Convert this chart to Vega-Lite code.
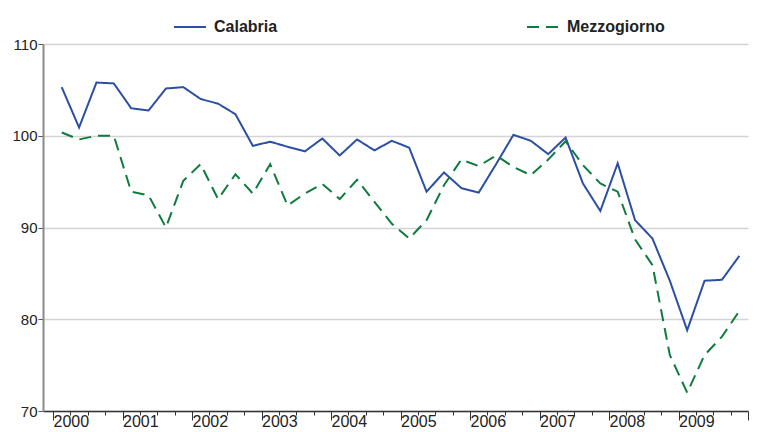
{
  "$schema": "https://vega.github.io/schema/vega-lite/v6.json",
  "width": 705,
  "height": 367,
  "autosize": {"type": "none"},
  "padding": {"left": 43, "top": 44, "right": 9, "bottom": 21},
  "background": "white",
  "config": {
    "view": {"stroke": null},
    "font": "Liberation Sans",
    "axis": {"labelFont": "Liberation Sans", "labelColor": "#222222", "labelFontSize": 15, "title": null}
  },
  "data": {
    "values": [
      {"t": 2000.125, "s": "Calabria", "v": 105.3},
      {"t": 2000.375, "s": "Calabria", "v": 100.9},
      {"t": 2000.625, "s": "Calabria", "v": 105.8},
      {"t": 2000.875, "s": "Calabria", "v": 105.7},
      {"t": 2001.125, "s": "Calabria", "v": 103.0},
      {"t": 2001.375, "s": "Calabria", "v": 102.75},
      {"t": 2001.625, "s": "Calabria", "v": 105.15},
      {"t": 2001.875, "s": "Calabria", "v": 105.3},
      {"t": 2002.125, "s": "Calabria", "v": 104.0},
      {"t": 2002.375, "s": "Calabria", "v": 103.5},
      {"t": 2002.625, "s": "Calabria", "v": 102.35},
      {"t": 2002.875, "s": "Calabria", "v": 98.9},
      {"t": 2003.125, "s": "Calabria", "v": 99.35},
      {"t": 2003.375, "s": "Calabria", "v": 98.8},
      {"t": 2003.625, "s": "Calabria", "v": 98.3},
      {"t": 2003.875, "s": "Calabria", "v": 99.7},
      {"t": 2004.125, "s": "Calabria", "v": 97.85},
      {"t": 2004.375, "s": "Calabria", "v": 99.6},
      {"t": 2004.625, "s": "Calabria", "v": 98.4},
      {"t": 2004.875, "s": "Calabria", "v": 99.45},
      {"t": 2005.125, "s": "Calabria", "v": 98.7},
      {"t": 2005.375, "s": "Calabria", "v": 93.9},
      {"t": 2005.625, "s": "Calabria", "v": 96.0},
      {"t": 2005.875, "s": "Calabria", "v": 94.3},
      {"t": 2006.125, "s": "Calabria", "v": 93.8},
      {"t": 2006.375, "s": "Calabria", "v": 96.9},
      {"t": 2006.625, "s": "Calabria", "v": 100.1},
      {"t": 2006.875, "s": "Calabria", "v": 99.45},
      {"t": 2007.125, "s": "Calabria", "v": 98.0},
      {"t": 2007.375, "s": "Calabria", "v": 99.8},
      {"t": 2007.625, "s": "Calabria", "v": 94.8},
      {"t": 2007.875, "s": "Calabria", "v": 91.8},
      {"t": 2008.125, "s": "Calabria", "v": 97.0},
      {"t": 2008.375, "s": "Calabria", "v": 90.8},
      {"t": 2008.625, "s": "Calabria", "v": 88.8},
      {"t": 2008.875, "s": "Calabria", "v": 84.2},
      {"t": 2009.125, "s": "Calabria", "v": 78.8},
      {"t": 2009.375, "s": "Calabria", "v": 84.2},
      {"t": 2009.625, "s": "Calabria", "v": 84.3},
      {"t": 2009.875, "s": "Calabria", "v": 86.9},
      {"t": 2000.125, "s": "Mezzogiorno", "v": 100.35},
      {"t": 2000.375, "s": "Mezzogiorno", "v": 99.6},
      {"t": 2000.625, "s": "Mezzogiorno", "v": 100.0},
      {"t": 2000.875, "s": "Mezzogiorno", "v": 100.0},
      {"t": 2001.125, "s": "Mezzogiorno", "v": 93.9},
      {"t": 2001.375, "s": "Mezzogiorno", "v": 93.5},
      {"t": 2001.625, "s": "Mezzogiorno", "v": 90.0},
      {"t": 2001.875, "s": "Mezzogiorno", "v": 95.1},
      {"t": 2002.125, "s": "Mezzogiorno", "v": 96.9},
      {"t": 2002.375, "s": "Mezzogiorno", "v": 93.1},
      {"t": 2002.625, "s": "Mezzogiorno", "v": 95.8},
      {"t": 2002.875, "s": "Mezzogiorno", "v": 93.7},
      {"t": 2003.125, "s": "Mezzogiorno", "v": 96.9},
      {"t": 2003.375, "s": "Mezzogiorno", "v": 92.4},
      {"t": 2003.625, "s": "Mezzogiorno", "v": 93.7},
      {"t": 2003.875, "s": "Mezzogiorno", "v": 94.75},
      {"t": 2004.125, "s": "Mezzogiorno", "v": 93.1},
      {"t": 2004.375, "s": "Mezzogiorno", "v": 95.2},
      {"t": 2004.625, "s": "Mezzogiorno", "v": 92.8},
      {"t": 2004.875, "s": "Mezzogiorno", "v": 90.4},
      {"t": 2005.125, "s": "Mezzogiorno", "v": 88.8},
      {"t": 2005.375, "s": "Mezzogiorno", "v": 90.8},
      {"t": 2005.625, "s": "Mezzogiorno", "v": 94.6},
      {"t": 2005.875, "s": "Mezzogiorno", "v": 97.4},
      {"t": 2006.125, "s": "Mezzogiorno", "v": 96.7},
      {"t": 2006.375, "s": "Mezzogiorno", "v": 97.85},
      {"t": 2006.625, "s": "Mezzogiorno", "v": 96.6},
      {"t": 2006.875, "s": "Mezzogiorno", "v": 95.7},
      {"t": 2007.125, "s": "Mezzogiorno", "v": 97.4},
      {"t": 2007.375, "s": "Mezzogiorno", "v": 99.4},
      {"t": 2007.625, "s": "Mezzogiorno", "v": 96.8},
      {"t": 2007.875, "s": "Mezzogiorno", "v": 94.8},
      {"t": 2008.125, "s": "Mezzogiorno", "v": 93.9},
      {"t": 2008.375, "s": "Mezzogiorno", "v": 88.7},
      {"t": 2008.625, "s": "Mezzogiorno", "v": 85.9},
      {"t": 2008.875, "s": "Mezzogiorno", "v": 76.1},
      {"t": 2009.125, "s": "Mezzogiorno", "v": 72.0},
      {"t": 2009.375, "s": "Mezzogiorno", "v": 76.1},
      {"t": 2009.625, "s": "Mezzogiorno", "v": 78.1},
      {"t": 2009.875, "s": "Mezzogiorno", "v": 80.9}
    ]
  },
  "mark": {"type": "line", "strokeWidth": 2},
  "encoding": {
    "x": {
      "field": "t",
      "type": "quantitative",
      "scale": {"domain": [1999.856, 2010], "nice": false, "zero": false},
      "axis": {
        "grid": false,
        "values": [2000, 2000.25, 2000.5, 2000.75, 2001, 2001.25, 2001.5, 2001.75, 2002, 2002.25, 2002.5, 2002.75, 2003, 2003.25, 2003.5, 2003.75, 2004, 2004.25, 2004.5, 2004.75, 2005, 2005.25, 2005.5, 2005.75, 2006, 2006.25, 2006.5, 2006.75, 2007, 2007.25, 2007.5, 2007.75, 2008, 2008.25, 2008.5, 2008.75, 2009, 2009.25, 2009.5, 2009.75, 2010],
        "labelExpr": "(datum.value % 1 === 0 && datum.value < 2010) ? '' + datum.value : ''",
        "labelAlign": "left",
        "labelDx": 1,
        "labelBaseline": "top",
        "labelPadding": -7,
        "labelFontSize": 16,
        "labelOverlap": false,
        "labelFlush": false,
        "domainColor": "#333333",
        "domainWidth": 1.5,
        "tickColor": "#333333",
        "tickWidth": 1,
        "tickSize": {"condition": {"test": "datum.value % 1 === 0", "value": 9}, "value": 4}
      }
    },
    "y": {
      "field": "v",
      "type": "quantitative",
      "scale": {"domain": [70, 110], "nice": false, "zero": false},
      "axis": {
        "values": [70, 80, 90, 100, 110],
        "grid": true,
        "gridColor": "#d4d4d4",
        "gridWidth": 1.3,
        "domainColor": "#8a8a8a",
        "domainWidth": 2,
        "tickColor": "#555555",
        "tickSize": 5,
        "labelPadding": 1
      }
    },
    "color": {
      "field": "s",
      "type": "nominal",
      "scale": {"domain": ["Calabria", "Mezzogiorno"], "range": ["#2c4fa3", "#0e7c3e"]},
      "legend": {
        "title": null,
        "orient": "none",
        "legendX": 130,
        "legendY": -34,
        "direction": "horizontal",
        "columns": 2,
        "columnPadding": 245,
        "symbolType": "stroke",
        "symbolSize": 1024,
        "symbolStrokeWidth": 2,
        "labelFont": "Liberation Sans",
        "labelFontSize": 16,
        "labelFontWeight": "bold",
        "labelColor": "#222222",
        "labelOffset": 7
      }
    },
    "strokeDash": {
      "field": "s",
      "type": "nominal",
      "scale": {"domain": ["Calabria", "Mezzogiorno"], "range": [[1, 0], [12, 7]]},
      "legend": {
        "title": null,
        "orient": "none",
        "legendX": 130,
        "legendY": -34,
        "direction": "horizontal",
        "columns": 2,
        "columnPadding": 245,
        "symbolType": "stroke",
        "symbolSize": 1024,
        "symbolStrokeWidth": 2,
        "labelFont": "Liberation Sans",
        "labelFontSize": 16,
        "labelFontWeight": "bold",
        "labelColor": "#222222",
        "labelOffset": 7
      }
    }
  }
}
